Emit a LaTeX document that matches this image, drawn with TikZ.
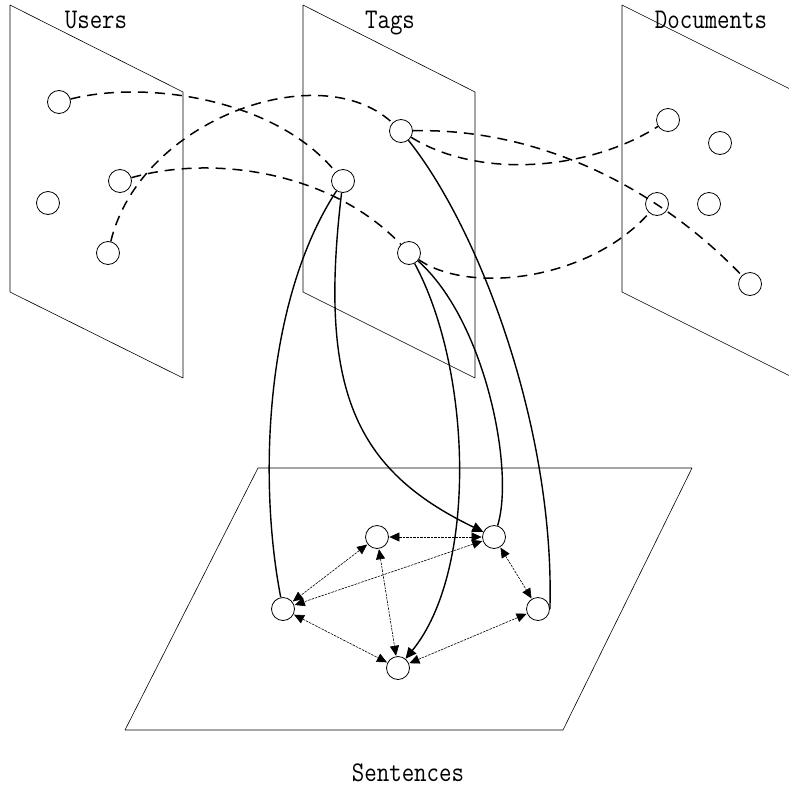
\documentclass[tikz,border=0pt]{standalone}
\usepackage{tikz}
\usetikzlibrary{arrows.meta}
\usepackage{graphicx}
\tikzset{smallwhitenode/.style={circle, draw=black, line width=0.8pt, minimum size=23pt, inner sep=0pt},planeline/.style={draw=black, line width=0.6pt, line join=bevel}}
\tikzset{dashedlink/.style={draw=black, line width=1.5pt, dash pattern=on 10pt off 7pt},solidlink/.style={draw=black, line width=1.4pt},dottedlink/.style={draw=black, line width=0.6pt, dash pattern=on 2.5pt off 1pt, {Triangle[length=10pt, width=9pt]}-{Triangle[length=10pt, width=9pt]}, shorten <=0.5pt, shorten >=0.5pt}}
\newcommand{\planelabel}[1]{\scalebox{0.85}[1]{\fontsize{28.5}{30}\selectfont\ttfamily #1}}

\begin{document}
\begin{tikzpicture}[
        x=1pt, y=-1pt,
        smallwhitenode/.style={circle, draw=black, line width=0.8pt, minimum size=23pt, inner sep=0pt},
        tipped/.style={-{Triangle[length=11pt, width=10pt]}}
    ]
        \useasboundingbox (0, 0) rectangle (789, 787);
        \clip (0, 0) rectangle (789, 787);
        % Planes
        \draw[planeline] (10, 5) -- (183, 92) -- (183, 378) -- (10, 292) -- cycle;
        \draw[planeline] (303, 5) -- (475, 92) -- (475, 378) -- (303, 292) -- cycle;
        \draw[planeline] (622, 5) -- (800, 94) -- (800, 381) -- (622, 292) -- cycle;
        \draw[planeline] (258, 468) -- (692, 468) -- (563, 730) -- (125, 730) -- cycle;
        % Plane labels
        \node[anchor=base] (userslabel) at (96, 28) {\planelabel{Users}};
        \node[anchor=base] (tagslabel) at (390, 28) {\planelabel{Tags}};
        \node[anchor=base] (docslabel) at (711, 28) {\planelabel{Documents}};
        \node[anchor=base] (sentlabel) at (408, 781) {\planelabel{Sentences}};
        % Points
        \foreach \name/\x/\y in {
            u1/59/102, u2/120/181, u3/48/203, u4/108/253,
            t1/401/131, t2/343/181, t3/409/253,
            d1/668/120, d2/720/143, d3/657/204, d4/709/204, d5/750/284,
            sa/377/537, sb/494/537, sc/283/609, sd/538/609, se/398/668} {
            \node[smallwhitenode] (\name) at (\x, \y) {};
        }
        % Dashed links
        \draw[dashedlink] (u1) .. controls (145, 80) and (275, 98) .. (t2);
        \draw[dashedlink] (u4) .. controls (140, 120) and (320, 55) .. (t1);
        \draw[dashedlink] (u2) .. controls (210, 155) and (330, 170) .. (t3);
        \draw[dashedlink] (t1) .. controls (480, 180) and (590, 170) .. (d1);
        \draw[dashedlink] (t1) .. controls (530, 128) and (650, 180) .. (d5);
        \draw[dashedlink] (t3) .. controls (470, 295) and (590, 280) .. (d3);
        % Solid links
        \draw[solidlink] (t2) .. controls (265, 300) and (258, 480) .. (sc);
        \draw[solidlink, tipped] (t2) .. controls (318, 390) and (355, 470) .. (sb);
        \draw[solidlink, tipped] (t3) .. controls (472, 370) and (478, 570) .. (se);
        \draw[solidlink] (t3) .. controls (485, 320) and (515, 470) .. (sb);
        \draw[solidlink] (t1) .. controls (480, 230) and (555, 430) .. (sd.east);
        % Dotted links
        \draw[dottedlink] (sa) -- (sb);
        \draw[dottedlink] (sa) -- (sc);
        \draw[dottedlink] (sa) -- (se);
        \draw[dottedlink] (sb) -- (sc);
        \draw[dottedlink] (sb) -- (sd);
        \draw[dottedlink] (sc) -- (se);
        \draw[dottedlink] (se) -- (sd);
    \end{tikzpicture}
\end{document}
